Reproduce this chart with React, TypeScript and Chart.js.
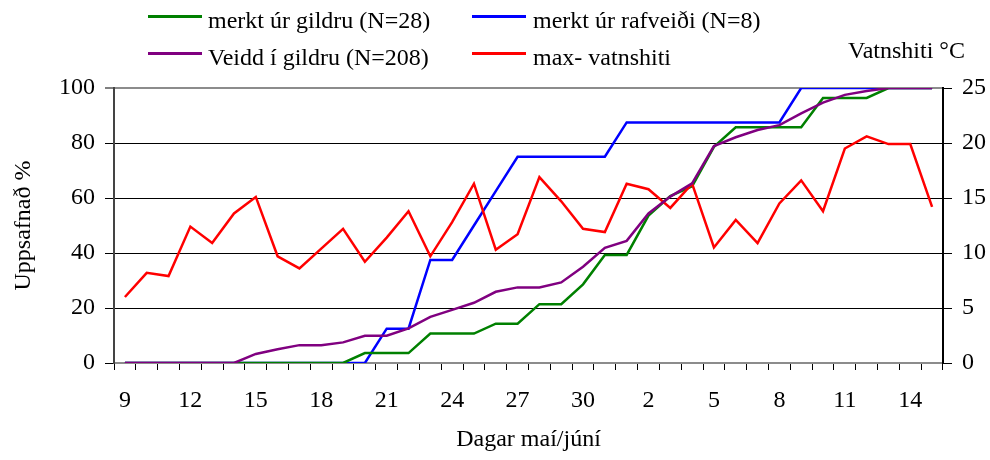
import React, { useEffect, useRef } from 'react';
import { Chart, registerables } from 'chart.js';

Chart.register(...registerables);

// Days from 9 May to 15 June
const days = [
  '9', '10', '11', '12', '13', '14', '15', '16', '17', '18', '19', '20', '21', '22', '23', '24', '25', '26', '27', '28', '29', '30', '31',
  '1', '2', '3', '4', '5', '6', '7', '8', '9', '10', '11', '12', '13', '14', '15',
];

const merktGildru = [
  0, 0, 0, 0, 0, 0, 0, 0, 0, 0, 0, 3.6, 3.6, 3.6, 10.7, 10.7, 10.7, 14.3, 14.3, 21.4, 21.4, 28.6, 39.3,
  39.3, 53.6, 60.7, 64.3, 78.6, 85.7, 85.7, 85.7, 85.7, 96.4, 96.4, 96.4, 100, 100, 100,
];

const merktRafveidi = [
  0, 0, 0, 0, 0, 0, 0, 0, 0, 0, 0, 0, 12.5, 12.5, 37.5, 37.5, 50, 62.5, 75, 75, 75, 75, 75,
  87.5, 87.5, 87.5, 87.5, 87.5, 87.5, 87.5, 87.5, 100, 100, 100, 100, 100, 100, 100,
];

const veiddGildru = [
  0, 0, 0, 0, 0, 0, 3.3, 5.0, 6.5, 6.5, 7.5, 9.9, 9.9, 12.6, 16.8, 19.3, 21.9, 25.9, 27.5, 27.5, 29.3, 35.0, 41.9,
  44.4, 54.4, 60.5, 65.3, 78.9, 82.1, 84.7, 86.5, 90.8, 94.7, 97.5, 98.9, 100, 100, 100,
];

const maxVatnshiti = [
  6.0, 8.2, 7.9, 12.4, 10.9, 13.6, 15.1, 9.7, 8.6, 10.4, 12.2, 9.2, 11.4, 13.8, 9.7, 12.8, 16.3, 10.3, 11.7, 16.9, 14.7, 12.2, 11.9,
  16.3, 15.8, 14.1, 16.3, 10.5, 13.0, 10.9, 14.5, 16.6, 13.8, 19.5, 20.6, 19.9, 19.9, 14.2,
];

const seriesNames = [
  'merkt úr gildru (N=28)',
  'merkt úr rafveiði (N=8)',
  'Veidd í gildru (N=208)',
  'max- vatnshiti',
];
const seriesColors = ['#008000', '#0000FF', '#800080', '#FF0000'];

const FONT = '"Liberation Serif", "Times New Roman", serif';

export default function App() {
  const canvasRef = useRef<HTMLCanvasElement | null>(null);

  useEffect(() => {
    if (!canvasRef.current) return;
    const chart = new Chart(canvasRef.current, {
      type: 'line',
      data: {
        labels: days,
        datasets: [
          { label: seriesNames[0], data: merktGildru, borderColor: seriesColors[0], backgroundColor: seriesColors[0], yAxisID: 'y', order: 2 },
          { label: seriesNames[1], data: merktRafveidi, borderColor: seriesColors[1], backgroundColor: seriesColors[1], yAxisID: 'y', order: 3 },
          { label: seriesNames[2], data: veiddGildru, borderColor: seriesColors[2], backgroundColor: seriesColors[2], yAxisID: 'y', order: 0 },
          { label: seriesNames[3], data: maxVatnshiti, borderColor: seriesColors[3], backgroundColor: seriesColors[3], yAxisID: 'y1', order: 1 },
        ],
      },
      options: {
        animation: false,
        responsive: true,
        maintainAspectRatio: false,
        layout: { padding: { top: 88, left: 0, right: 0, bottom: 0 } },
        elements: {
          point: { radius: 0, hoverRadius: 0 },
          line: { borderWidth: 2.5, tension: 0 },
        },
        plugins: {
          legend: { display: false },
          tooltip: { enabled: false },
        },
        scales: {
          x: {
            type: 'category',
            offset: true,
            grid: {
              offset: true,
              drawOnChartArea: false,
              drawTicks: true,
              tickLength: 7,
              tickColor: '#000',
              tickWidth: 1,
            },
            border: { display: true, color: '#8c8c8c', width: 2 },
            ticks: {
              autoSkip: false,
              maxRotation: 0,
              minRotation: 0,
              padding: 16,
              color: '#000',
              font: { family: FONT, size: 24 },
              callback: function (this: any, val: any, idx: number) {
                return idx % 3 === 0 ? this.getLabelForValue(val) : '';
              },
            },
            title: {
              display: true,
              text: 'Dagar maí/júní',
              color: '#000',
              font: { family: FONT, size: 24 },
              padding: { top: 0, bottom: 6 },
            },
            afterFit: (scale: any) => {
              scale.height = 97;
            },
          },
          y: {
            position: 'left',
            min: 0,
            max: 100,
            grid: {
              color: (ctx: any) => (ctx.tick && ctx.tick.value === 100 ? '#8c8c8c' : '#000'),
              lineWidth: (ctx: any) => (ctx.tick && ctx.tick.value === 100 ? 2 : 1),
              tickLength: 9,
              tickColor: '#000',
              tickWidth: 1,
            },
            border: { display: true, color: '#444', width: 2 },
            ticks: {
              stepSize: 20,
              padding: 10,
              color: '#000',
              font: { family: FONT, size: 24 },
            },
            title: {
              display: true,
              text: 'Uppsafnað %',
              color: '#000',
              font: { family: FONT, size: 24 },
              padding: { top: 9, bottom: 0 },
            },
            afterFit: (scale: any) => {
              scale.width = 114;
            },
          },
          y1: {
            position: 'right',
            min: 0,
            max: 25,
            grid: {
              drawOnChartArea: false,
              tickLength: 9,
              tickColor: '#000',
              tickWidth: 1,
            },
            border: { display: true, color: '#000', width: 2 },
            ticks: {
              stepSize: 5,
              padding: 10,
              color: '#000',
              font: { family: FONT, size: 24 },
            },
            afterFit: (scale: any) => {
              scale.width = 47;
            },
          },
        },
      },
    });
    return () => chart.destroy();
  }, []);

  const legendItems = [
    { name: seriesNames[0], color: seriesColors[0], lineX: 148, textX: 208, row: 0 },
    { name: seriesNames[1], color: seriesColors[1], lineX: 472, textX: 533, row: 0 },
    { name: seriesNames[2], color: seriesColors[2], lineX: 148, textX: 208, row: 1 },
    { name: seriesNames[3], color: seriesColors[3], lineX: 472, textX: 533, row: 1 },
  ];

  return (
    <div style={{ position: 'absolute', left: 0, top: 0, width: 990, height: 460, background: '#fff' }}>
      <canvas ref={canvasRef} />
      {legendItems.map((it) => (
        <React.Fragment key={it.name}>
          <div
            style={{
              position: 'absolute',
              left: it.lineX,
              top: it.row === 0 ? 15 : 52,
              width: 54,
              height: 3,
              background: it.color,
            }}
          />
          <div
            style={{
              position: 'absolute',
              left: it.textX,
              top: it.row === 0 ? 6 : 43,
              fontFamily: FONT,
              fontSize: 24,
              lineHeight: '28px',
              color: '#000',
              whiteSpace: 'nowrap',
            }}
          >
            {it.name}
          </div>
        </React.Fragment>
      ))}
      <div
        style={{
          position: 'absolute',
          left: 848,
          top: 36,
          fontFamily: FONT,
          fontSize: 24,
          lineHeight: '28px',
          color: '#000',
          whiteSpace: 'nowrap',
        }}
      >
        Vatnshiti °C
      </div>
    </div>
  );
}
